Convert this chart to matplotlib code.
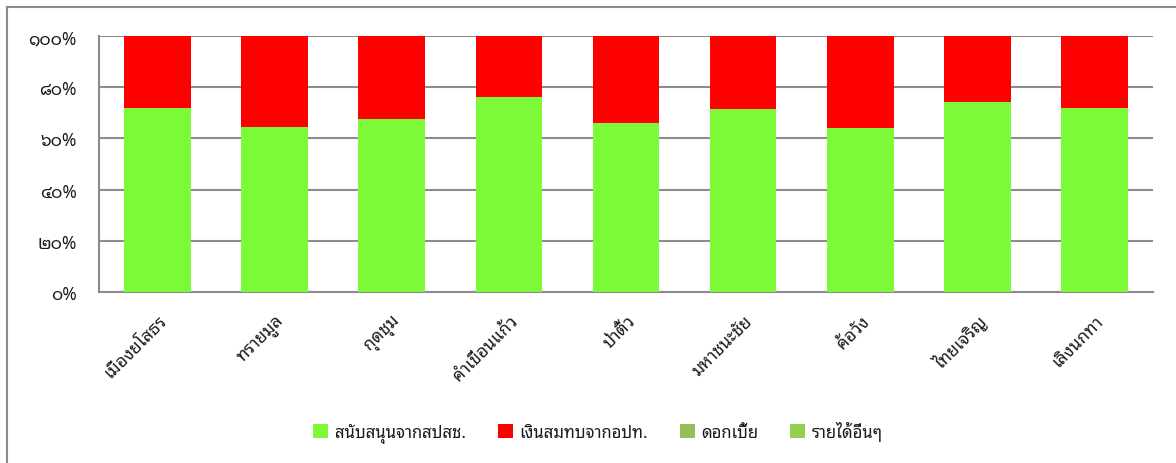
import matplotlib
matplotlib.use("Agg")
import matplotlib.pyplot as plt
from matplotlib.patches import Patch
from matplotlib.lines import Line2D
import numpy as np

plt.rcParams['font.family'] = ['Noto Sans Thai Looped', 'DejaVu Sans']
plt.rcParams['font.weight'] = 'light'
plt.rcParams['text.color'] = '#1a1a1a'
plt.rcParams['xtick.color'] = '#1a1a1a'
plt.rcParams['ytick.color'] = '#1a1a1a'

districts = ["เมืองยโสธร", "ทรายมูล", "กุดชุม", "คำเขื่อนแก้ว", "ป่าติ้ว",
             "มหาชนะชัย", "ค้อวัง", "ไทยเจริญ", "เลิงนกทา"]
series_names = ["สนับสนุนจากสปสช.", "เงินสมทบจากอปท.", "ดอกเบี้ย", "รายได้อื่นๆ"]

nhso_support = [71.9, 64.4, 67.6, 76.2, 66.0, 71.5, 63.9, 74.4, 71.9]
local_gov = [28.1, 35.6, 32.4, 23.8, 34.0, 28.5, 36.1, 25.6, 28.1]
interest = [0, 0, 0, 0, 0, 0, 0, 0, 0]
other_income = [0, 0, 0, 0, 0, 0, 0, 0, 0]

colors = ["#7CFA3A", "#FF0000", "#9BBB59", "#92D050"]
y_ticks = [0, 20, 40, 60, 80, 100]
y_tick_labels = ["๐%", "๒๐%", "๔๐%", "๖๐%", "๘๐%", "๑๐๐%"]

W, H = 1176, 464
fig = plt.figure(figsize=(W / 100, H / 100), dpi=100)

# outer chart frame (top and left edges)
fig.add_artist(Line2D([7 / W, 7 / W], [0, 1 - 8 / H], color="#8c8c8c", lw=1.5,
                      transform=fig.transFigure))
fig.add_artist(Line2D([7 / W, 1], [1 - 8 / H, 1 - 8 / H], color="#8c8c8c", lw=1.5,
                      transform=fig.transFigure))

ax = fig.add_axes([99 / W, 1 - 293 / H, (1153 - 99) / W, (293 - 37) / H])

data = np.array([nhso_support, local_gov, interest, other_income], dtype=float)
shares = data / data.sum(axis=0) * 100
x = np.arange(len(districts))
bottom = np.zeros(len(districts))
for vals, name, col in zip(shares, series_names, colors):
    ax.bar(x, vals, bottom=bottom, width=0.57, color=col, label=name, zorder=3)
    bottom += vals

ax.set_xlim(-0.5, len(districts) - 0.5)
ax.set_ylim(0, 100)
ax.set_yticks(y_ticks)
ax.set_yticklabels(y_tick_labels, fontsize=12.5)
ax.set_xticks(x)
ax.set_xticklabels(districts, rotation=45, ha="right", va="top",
                   rotation_mode="anchor", fontsize=12.5)
ax.tick_params(axis="y", length=0, pad=16)
ax.tick_params(axis="x", length=0, pad=14)
ax.yaxis.grid(True, color="#8c8c8c", lw=1.5, zorder=1)
ax.set_axisbelow(True)
for side in ["top", "right"]:
    ax.spines[side].set_visible(False)
for side in ["left", "bottom"]:
    ax.spines[side].set_color("#8c8c8c")
    ax.spines[side].set_linewidth(1.5)

handles = [Patch(facecolor=c, edgecolor="none") for c in colors]
fig.legend(handles, series_names, loc="center", bbox_to_anchor=(598 / W, 1 - 433 / H),
           ncol=4, frameon=False, fontsize=12, handlelength=0.9, handleheight=0.9,
           handletextpad=0.4, columnspacing=1.9)

fig.savefig("out.png", dpi=100)
